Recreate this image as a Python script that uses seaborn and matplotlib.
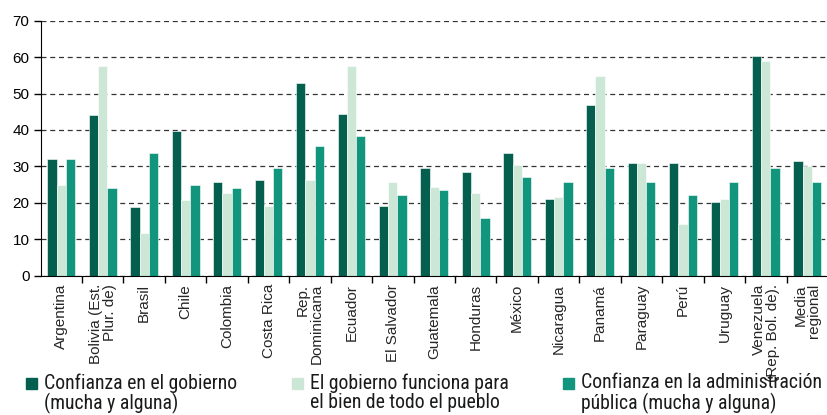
import matplotlib
matplotlib.use("Agg")
import matplotlib.pyplot as plt
import matplotlib.patches as mpatches
from matplotlib.ticker import FixedLocator
import pandas as pd
import seaborn as sns

# Data
countries = [
    "Argentina", "Bolivia (Est.\nPlur. de)", "Brasil", "Chile", "Colombia",
    "Costa Rica", "Rep.\nDominicana", "Ecuador", "El Salvador", "Guatemala",
    "Honduras", "México", "Nicaragua", "Panamá", "Paraguay", "Perú",
    "Uruguay", "Venezuela\n(Rep. Bol. de).", "Media\nregional",
]
confianza_gobierno = [32, 44, 18.8, 39.8, 25.8, 26.3, 53, 44.5, 19.2, 29.6,
                      28.5, 33.8, 21.1, 46.9, 30.9, 30.9, 20.1, 60.3, 31.4]
gobierno_funciona = [25, 57.6, 11.8, 20.7, 22.6, 19.2, 26.3, 57.6, 25.8, 24.3,
                     22.6, 30.5, 21.5, 54.7, 30.9, 14.1, 21.1, 58.9, 30.0]
confianza_admin = [32, 24, 33.8, 25, 24, 29.6, 35.6, 38.4, 22.1, 23.4,
                   15.9, 27.2, 25.8, 29.6, 25.8, 22.1, 25.8, 29.6, 25.8]
series_names = [
    "Confianza en el gobierno\n(mucha y alguna)",
    "El gobierno funciona para\nel bien de todo el pueblo",
    "Confianza en la administración\npública (mucha y alguna)",
]
colors = ["#045f4f", "#cce7d5", "#11967d"]

df = pd.DataFrame({
    "pais": countries * 3,
    "valor": confianza_gobierno + gobierno_funciona + confianza_admin,
    "serie": [series_names[0]] * 19 + [series_names[1]] * 19 + [series_names[2]] * 19,
})

sns.set_style("white")
plt.rcParams["font.family"] = ["Liberation Sans", "DejaVu Sans"]

fig = plt.figure(figsize=(8.28, 4.15), dpi=100)
ax = fig.add_axes([0.049, 0.336, 0.951, 0.614])

sns.barplot(data=df, x="pais", y="valor", hue="serie", hue_order=series_names,
            palette=colors, saturation=1, width=0.67, gap=0, edgecolor="white",
            linewidth=0.4, legend=False, ax=ax)

ax.set_ylim(0, 70)
ax.set_xlim(-0.5, len(countries) - 0.5)
ax.set_yticks(range(0, 71, 10))
ax.yaxis.grid(True, linestyle=(0, (4, 3)), color="#333333", linewidth=0.9)
ax.set_axisbelow(True)
for s in ["top", "right"]:
    ax.spines[s].set_visible(False)
ax.spines["left"].set_color("black")
ax.spines["bottom"].set_color("black")

ax.tick_params(axis="y", left=True, length=5, width=1, labelsize=11, colors="black", pad=3)
ax.tick_params(axis="x", which="major", length=0, pad=6)
ax.xaxis.set_minor_locator(FixedLocator([i - 0.5 for i in range(1, len(countries))]))
ax.tick_params(axis="x", which="minor", bottom=True, length=5, width=1, color="black")
ax.set_xticks(range(len(countries)))
ax.set_xticklabels(countries, rotation=90, fontsize=11, va="top", ha="center",
                   multialignment="right", linespacing=1.0)
ax.set_xlabel("")
ax.set_ylabel("")

# Legend (square keyed to first text line)
leg_sq_x = [26, 292, 563]
narrow = ["Roboto Condensed", "Archivo Narrow", "Liberation Sans"]
for name, col, px in zip(series_names, colors, leg_sq_x):
    fig.patches.append(mpatches.Rectangle((px / 828, 1 - 389 / 415), 11 / 828, 11 / 415,
                                          transform=fig.transFigure, color=col, figure=fig))
    fig.text((px + 18) / 828, 1 - 373 / 415, name, ha="left", va="top",
             family=narrow, fontsize=14.2, linespacing=1.04, color="#1a1a1a")

fig.savefig("out.png", dpi=100)
